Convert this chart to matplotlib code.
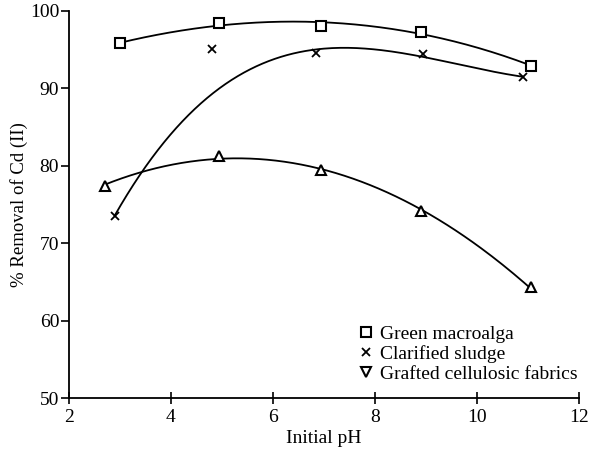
import numpy as np
import matplotlib
matplotlib.use("Agg")
from matplotlib import pyplot as plt

plt.rcParams['font.family'] = ['Liberation Serif', 'DejaVu Serif']

# data
ph_green = [3.0, 4.95, 6.95, 8.9, 11.05]
green = [95.8, 98.4, 98.1, 97.3, 92.9]

ph_sludge = [2.9, 4.8, 6.85, 8.95, 10.9]
sludge = [73.5, 95.1, 94.5, 94.4, 91.4]
sludge_w = [1, 0.25, 1, 1, 1]  # the pH 4.8 point sits well off the drawn trend

ph_fabric = [2.7, 4.95, 6.95, 8.9, 11.05]
fabric = [77.4, 81.3, 79.4, 74.2, 64.3]


def trend(x, y, deg, w=None):
    c = np.polyfit(x, y, deg, w=w)
    xx = np.linspace(min(x), max(x), 200)
    return xx, np.polyval(c, xx)


fig = plt.figure(figsize=(5.89, 4.53), dpi=100)
ax = fig.add_axes([0.117, 0.121, 0.866, 0.855])

xx, yy = trend(ph_green, green, 3)
ax.plot(xx, yy, color='black', lw=1.3)
xx, yy = trend(ph_sludge, sludge, 3, w=sludge_w)
ax.plot(xx, yy, color='black', lw=1.3)
xx, yy = trend(ph_fabric, fabric, 2)
ax.plot(xx, yy, color='black', lw=1.3)

ax.plot(ph_green, green, 's', ms=7, mfc='white', mec='black', mew=1.5,
        label='Green macroalga')
ax.plot(ph_sludge, sludge, 'x', ms=6, color='black', mew=1.3,
        label='Clarified sludge')
ax.plot(ph_fabric, fabric, '^', ms=7, mfc='white', mec='black', mew=1.5)
# legend shows a downward triangle
ax.plot([], [], 'v', ms=7, mfc='white', mec='black', mew=1.5,
        label='Grafted cellulosic fabrics')

ax.set_xlim(2, 12)
ax.set_ylim(50, 100)
ax.set_xticks([2, 4, 6, 8, 10, 12])
ax.set_yticks([50, 60, 70, 80, 90, 100])
ax.spines['top'].set_visible(False)
ax.spines['right'].set_visible(False)
ax.spines['left'].set_linewidth(1.3)
ax.spines['bottom'].set_linewidth(1.3)
ax.tick_params(axis='x', direction='inout', length=9, width=1.2, labelsize=14)
ax.tick_params(axis='y', direction='out', length=6, width=1.2, labelsize=14, pad=1)
ax.set_xlabel('Initial pH', fontsize=14, labelpad=3)
ax.set_ylabel('% Removal of Cd (II)', fontsize=13.5, labelpad=1)

ax.legend(loc='lower right', frameon=False, fontsize=14, handletextpad=0.2,
          borderaxespad=0.0, labelspacing=0.1, handlelength=1.0,
          bbox_to_anchor=(1.012, 0.02))

plt.savefig('out.png', dpi=100)
